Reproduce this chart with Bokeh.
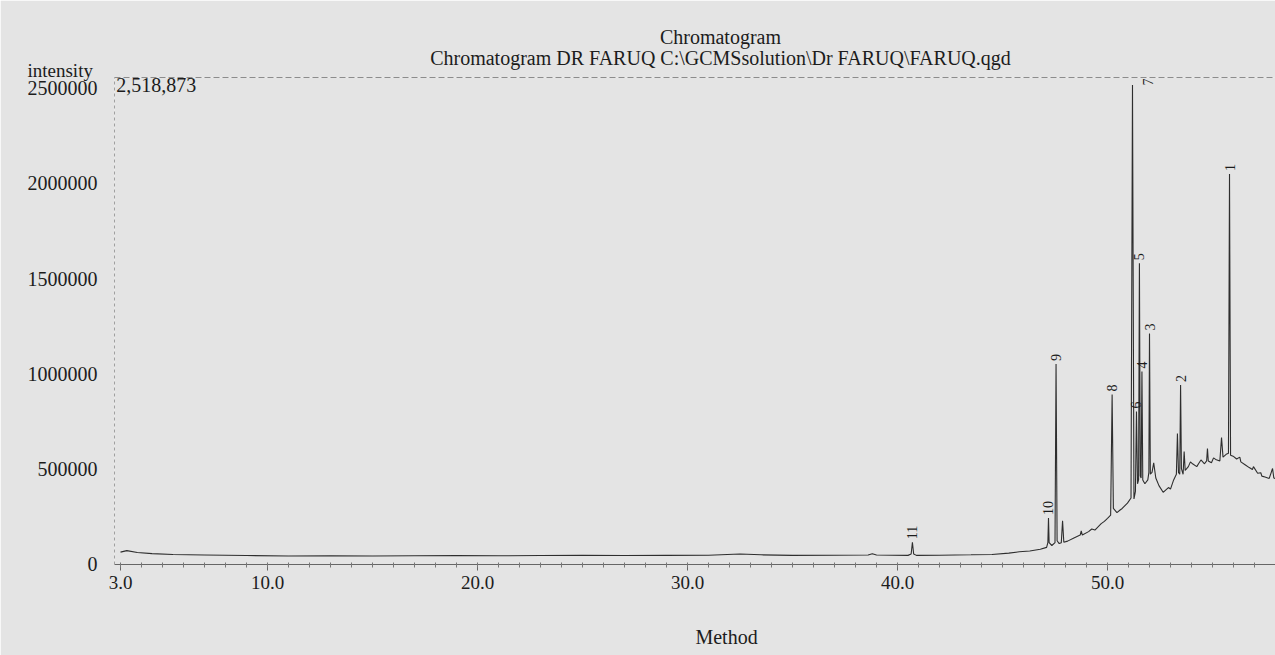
import math
from bokeh.plotting import figure
from bokeh.models import ColumnDataSource, FixedTicker, LinearAxis, Label, Range1d
from bokeh.core.properties import value
from bokeh.embed import file_html
from bokeh.resources import INLINE

# ---------------- data ----------------
ret_time = [3.0, 3.3, 3.8, 4.5, 5.5, 7.0, 9.0, 11.0, 13.0, 15.0, 17.0, 19.0, 21.0, 23.0,
            25.0, 27.0, 29.0, 31.0, 32.5, 33.5, 35.0, 37.0, 38.6, 38.8, 39.0, 40.5,
            40.65, 40.71, 40.77, 40.9, 42.0, 43.5, 44.5, 45.3, 45.8, 46.3, 46.8, 47.1,
            47.16, 47.19, 47.22, 47.35, 47.5, 47.55, 47.6, 47.7, 47.8, 47.86, 47.92,
            48.1, 48.4, 48.7, 48.75, 48.8, 49.1, 49.25, 49.4, 49.7, 49.85, 50.0, 50.15,
            50.22, 50.28, 50.45, 50.6, 50.7, 50.95, 51.12, 51.19, 51.26, 51.33, 51.38,
            51.43, 51.48, 51.52, 51.56, 51.6, 51.64, 51.68, 51.78, 51.92, 51.97, 52.0,
            52.04, 52.12, 52.2, 52.3, 52.45, 52.65, 52.9, 53.0, 53.15, 53.28, 53.33,
            53.38, 53.44, 53.48, 53.52, 53.6, 53.65, 53.7, 53.85, 53.95, 54.05, 54.25,
            54.35, 54.45, 54.62, 54.72, 54.76, 54.8, 54.95, 55.05, 55.15, 55.35, 55.43,
            55.5, 55.65, 55.76, 55.81, 55.86, 55.98, 56.15, 56.3, 56.35, 56.55, 56.75,
            56.9, 56.95, 57.15, 57.3, 57.35, 57.5, 57.7, 57.86, 57.92, 58.0]
intensity = [60000, 68000, 58000, 52000, 48000, 45000, 42000, 40000, 41000, 40000, 41000,
             42000, 41000, 42000, 43000, 42000, 43000, 44000, 50000, 46000, 43000, 44000,
             45000, 52000, 45000, 43000, 50000, 112000, 50000, 43000, 44000, 46000, 48000,
             55000, 62000, 66000, 75000, 85000, 110000, 240000, 110000, 95000, 110000,
             1050000, 120000, 105000, 110000, 225000, 112000, 118000, 135000, 150000,
             172000, 150000, 168000, 182000, 176000, 210000, 222000, 238000, 255000,
             890000, 290000, 268000, 282000, 290000, 318000, 345000, 2518873, 340000,
             380000, 800000, 420000, 440000, 1580000, 460000, 450000, 1010000, 440000,
             420000, 440000, 480000, 1210000, 470000, 480000, 530000, 450000, 410000,
             375000, 400000, 392000, 440000, 470000, 684000, 480000, 470000, 940000,
             500000, 470000, 590000, 490000, 510000, 535000, 525000, 510000, 528000,
             545000, 525000, 540000, 605000, 540000, 530000, 556000, 548000, 540000,
             663000, 560000, 575000, 580000, 2050000, 570000, 565000, 550000, 560000,
             535000, 520000, 505000, 495000, 510000, 475000, 478000, 460000, 455000,
             448000, 500000, 450000, 447000]

peak_ids = ["1", "2", "3", "4", "5", "6", "7", "8", "9", "10", "11"]
peak_times = [55.81, 53.48, 52.0, 51.64, 51.52, 51.38, 51.19, 50.22, 47.55, 47.19, 40.71]
peak_heights = [2050000, 940000, 1210000, 1010000, 1580000, 800000, 2518873, 890000,
                1050000, 240000, 112000]

x_ticks = [3.0, 10.0, 20.0, 30.0, 40.0, 50.0]
x_tick_labels = ["3.0", "10.0", "20.0", "30.0", "40.0", "50.0"]
x_minor_ticks = list(range(3, 59))
y_ticks = [0, 500000, 1000000, 1500000, 2000000, 2500000]
y_tick_labels = ["0", "500000", "1000000", "1500000", "2000000", "2500000"]

title_1 = "Chromatogram"
title_2 = "Chromatogram DR FARUQ C:\\GCMSsolution\\Dr FARUQ\\FARUQ.qgd"
y_title = "intensity"
x_title = "Method"

# ---------------- figure ----------------
BG = "#e4e4e4"
INK = "#1c1c1c"
FONT = "Liberation Serif"

p = figure(width=1275, height=655, output_backend="svg", toolbar_location=None,
           x_range=Range1d(2.714, 58.0), y_range=Range1d(-5000, 2557800),
           min_border_left=114, min_border_right=0, min_border_top=77,
           min_border_bottom=91)
p.background_fill_color = BG
p.border_fill_color = BG
p.outline_line_color = None
p.xgrid.visible = False
p.ygrid.visible = False

# x axis
xa = p.xaxis[0]
xa.ticker = FixedTicker(ticks=x_ticks, minor_ticks=x_minor_ticks)
xa.major_label_overrides = dict(zip(x_ticks, x_tick_labels))
xa.major_label_text_font = FONT
xa.major_label_text_font_size = "19px"
xa.major_label_text_color = INK
xa.major_label_standoff = 5
xa.axis_line_color = "#666666"
xa.major_tick_line_color = "#666666"
xa.minor_tick_line_color = "#777777"
xa.major_tick_out = 6
xa.major_tick_in = 0
xa.minor_tick_out = 3
xa.minor_tick_in = 2

# y axis
ya = p.yaxis[0]
ya.ticker = FixedTicker(ticks=y_ticks)
ya.major_label_overrides = dict(zip(y_ticks, y_tick_labels))
ya.major_label_text_font = FONT
ya.major_label_text_font_size = "20px"
ya.major_label_text_color = INK
ya.major_label_standoff = 11
ya.axis_line_color = "#a0a0a0"
ya.axis_line_dash = "3 3"
ya.major_tick_line_color = None
ya.minor_tick_line_color = None

# top frame line (dashed)
top = LinearAxis(ticker=FixedTicker(ticks=[]), major_label_text_font_size="0px",
                 axis_line_color="#8c8c8c", axis_line_dash="6 3",
                 major_tick_line_color=None, minor_tick_line_color=None)
p.add_layout(top, "above")

# trace
src = ColumnDataSource(dict(t=ret_time, i=intensity))
p.line("t", "i", source=src, line_color="#2e2e2e", line_width=1.1)

# peak labels
imax = peak_heights.index(max(peak_heights))
lab = ColumnDataSource(dict(
    x=[t for k, t in enumerate(peak_times) if k != imax],
    y=[h for k, h in enumerate(peak_heights) if k != imax],
    txt=[s for k, s in enumerate(peak_ids) if k != imax]))
p.text(x="x", y="y", text="txt", source=lab, angle=math.pi / 2,
       text_align="left", text_baseline="middle", y_offset=-3,
       text_font=value(FONT), text_font_size="14px", text_color=INK)
p.text(x=[peak_times[imax]], y=[p.y_range.end], text=[peak_ids[imax]],
       angle=math.pi / 2, text_align="right", text_baseline="middle",
       x_offset=16, y_offset=1,
       text_font=value(FONT), text_font_size="14px", text_color=INK)

# texts (side-panel labels are not clipped to the frame)
def add_label(text, x, y, align, place, size="20px"):
    p.add_layout(Label(x=x, y=y, text=text, text_align=align, text_baseline="middle",
                       text_font=FONT, text_font_size=size, text_color=INK), place)

add_label(title_1, 31.57, 2771000, "center", "above")
add_label(title_2, 31.57, 2660000, "center", "above")
add_label(y_title, -1.43, 2595000, "left", "below", "19px")
add_label(x_title, 31.86, -389000, "center", "below")
add_label(f"{max(intensity):,}", 2.8, max(intensity), "left", "center")

open("out.html", "w").write(file_html(p, INLINE))
